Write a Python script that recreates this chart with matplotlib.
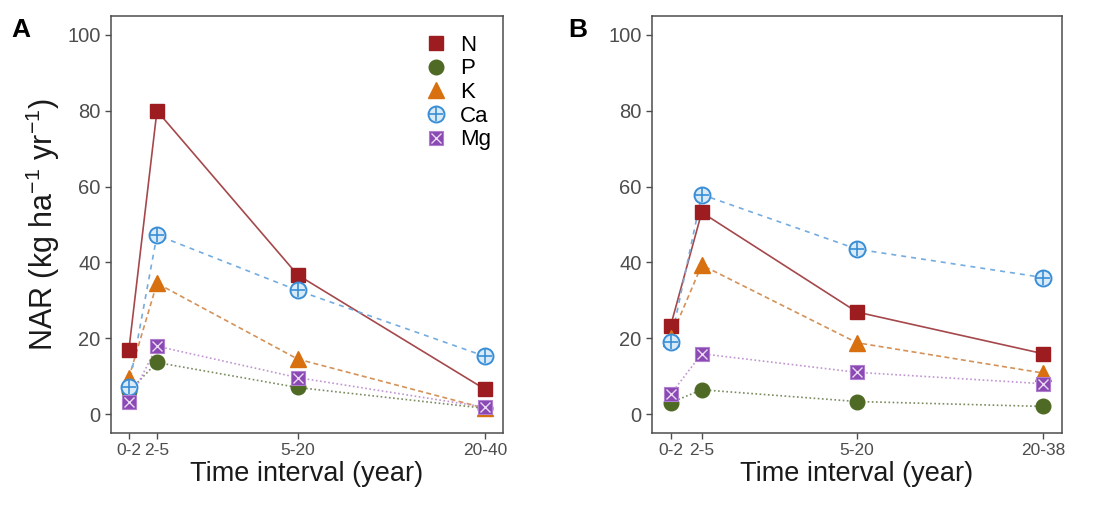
import matplotlib
matplotlib.use("Agg")
import matplotlib.pyplot as plt
from matplotlib.lines import Line2D

plt.rcParams['font.family'] = ['Liberation Sans', 'DejaVu Sans']
plt.rcParams['mathtext.default'] = 'regular'

# ---- data ----
x_a = [2, 5, 20, 40]
labels_a = ['0-2', '2-5', '5-20', '20-40']
x_b = [2, 5, 20, 38]
labels_b = ['0-2', '2-5', '5-20', '20-38']

elements = ['N', 'P', 'K', 'Ca', 'Mg']

n_a = [16.8, 80, 36.7, 6.5]
p_a = [6.0, 13.6, 7.0, 1.5]
k_a = [9.5, 34.5, 14.5, 1.5]
ca_a = [7.0, 47.2, 32.6, 15.2]
mg_a = [3.2, 17.9, 9.6, 1.8]

n_b = [23.3, 53.2, 26.9, 15.9]
p_b = [3.0, 6.4, 3.3, 2.0]
k_b = [20.0, 39.3, 18.8, 10.8]
ca_b = [19.0, 57.9, 43.5, 36.0]
mg_b = [5.2, 15.9, 11.0, 8.0]

# ---- styles ----
styles = {
    'N':  dict(color='#9c1c1f', line='#a5484c', ls='-',          marker='s', ms=10),
    'P':  dict(color='#4e6a24', line='#7a8c60', ls=(0, (1, 1.5)), marker='o', ms=10.5),
    'K':  dict(color='#d8700f', line='#d49258', ls=(0, (3, 2)),   marker='^', ms=11.5),
    'Ca': dict(color='#3a8ed6', line='#74ace0', ls=(0, (3, 3)),   marker='o', ms=11.5),
    'Mg': dict(color='#8a49b3', line='#c096d2', ls=(0, (1, 1.5)), marker='s', ms=10.5),
}


def marker_parts(name):
    st = styles[name]
    if name == 'Ca':
        return [dict(marker='o', ms=st['ms'], mfc='#d9eaf8', mec=st['color'], mew=1.4),
                dict(marker='+', ms=st['ms'] - 1, mec=st['color'], mew=1.2)]
    if name == 'Mg':
        return [dict(marker='s', ms=st['ms'], mfc=st['color'], mec='#b07fd0', mew=0.8),
                dict(marker='x', ms=st['ms'] - 3.5, mec='#ead9f4', mew=1.0)]
    return [dict(marker=st['marker'], ms=st['ms'], mfc=st['color'], mec=st['color'])]


def draw_series(ax, x, y, name):
    st = styles[name]
    ax.plot(x, y, color=st['line'], ls=st['ls'], lw=1.2, zorder=2)
    for kw in marker_parts(name):
        ax.plot(x, y, ls='none', zorder=3, **kw)


def legend_handle(name):
    parts = [Line2D([], [], ls='none', **kw) for kw in marker_parts(name)]
    return tuple(parts) if len(parts) > 1 else parts[0]


def style_axes(ax, xt, xl):
    ax.set_ylim(-5, 105)
    ax.set_xlim(xt[0] - 0.05 * (xt[-1] - xt[0]), xt[-1] + 0.05 * (xt[-1] - xt[0]))
    ax.set_yticks([0, 20, 40, 60, 80, 100])
    ax.set_xticks(xt)
    ax.set_xticklabels(xl)
    for s in ax.spines.values():
        s.set_color('#4d4d4d')
        s.set_linewidth(1.1)
    ax.tick_params(axis='both', direction='out', length=4.5, width=1.0,
                   color='#4d4d4d', labelcolor='#4d4d4d', pad=3)
    ax.tick_params(axis='y', labelsize=14.5)
    ax.tick_params(axis='x', labelsize=12.5)
    ax.set_xlabel('Time interval (year)', fontsize=19.5, color='#1a1a1a', labelpad=2)


fig = plt.figure(figsize=(11.1, 5.05), dpi=100)
ax_a = fig.add_axes([0.100, 0.1426, 0.3532, 0.8257])
ax_b = fig.add_axes([0.5874, 0.1426, 0.3694, 0.8257])

series_a = dict(N=n_a, P=p_a, K=k_a, Ca=ca_a, Mg=mg_a)
series_b = dict(N=n_b, P=p_b, K=k_b, Ca=ca_b, Mg=mg_b)

for name in elements:
    draw_series(ax_a, x_a, series_a[name], name)
    draw_series(ax_b, x_b, series_b[name], name)

style_axes(ax_a, x_a, labels_a)
style_axes(ax_b, x_b, labels_b)

ax_a.set_ylabel(r'NAR (kg ha$^{-1}$ yr$^{-1}$)', fontsize=22, color='#1a1a1a',
                labelpad=4)

ax_a.legend([legend_handle(n) for n in elements], elements,
            loc='upper left', bbox_to_anchor=(0.80, 0.955), frameon=False,
            fontsize=16, handlelength=1.05, handletextpad=0.55,
            labelspacing=0.12, borderaxespad=0.0, borderpad=0.0)

fig.text(0.010, 0.965, 'A', fontsize=19, fontweight='bold', va='top')
fig.text(0.512, 0.965, 'B', fontsize=19, fontweight='bold', va='top')

fig.savefig('out.png', dpi=100)
